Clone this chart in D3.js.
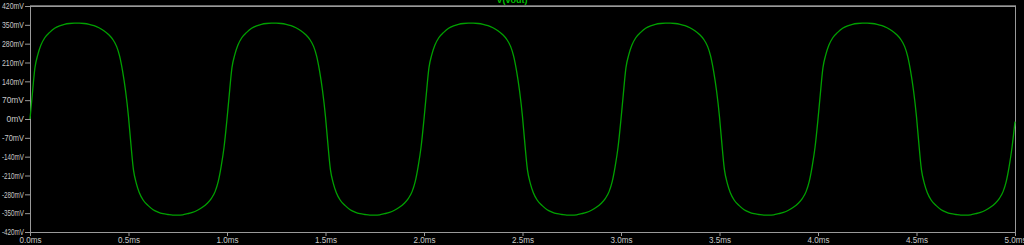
<!DOCTYPE html>
<html><head><meta charset="utf-8">
<script src="https://cdn.jsdelivr.net/npm/d3@7"></script>
<style>html,body{margin:0;padding:0;background:#000;overflow:hidden}</style>
</head><body>
<svg id="c" width="1024" height="245"></svg>
<script>
// one period of V(vout) (time within period in ms, value in mV)
const cycleT = [0, 0.01, 0.025, 0.04, 0.055, 0.075, 0.1, 0.125, 0.15, 0.175, 0.2, 0.225, 0.25, 0.275, 0.3, 0.325, 0.35, 0.375, 0.4, 0.42, 0.44, 0.455, 0.47, 0.485,
                0.5, 0.51, 0.525, 0.54, 0.555, 0.575, 0.6, 0.625, 0.65, 0.675, 0.7, 0.725, 0.75, 0.775, 0.8, 0.825, 0.85, 0.875, 0.9, 0.92, 0.94, 0.955, 0.97, 0.985];
const cycleV = [0, 78, 190, 240, 274, 302, 322, 337, 346, 352, 355, 356, 356, 355, 352, 347, 339, 328, 313, 296, 269, 234, 178, 105,
                8, -75, -188, -240, -274, -302, -322, -337, -346, -352, -355, -357, -357, -356, -352, -347, -339, -328, -313, -296, -269, -234, -178, -105];
const periods = [0, 1, 2, 3, 4];
const endT = 5.0, endV = -10;
const yTicks = [420, 350, 280, 210, 140, 70, 0, -70, -140, -210, -280, -350, -420];
const xTicks = [0, 0.5, 1.0, 1.5, 2.0, 2.5, 3.0, 3.5, 4.0, 4.5, 5.0];
const title = "V(vout)";

const data = [];
periods.forEach(p => cycleT.forEach((t, i) => data.push({t: p + t, v: cycleV[i]})));
data.push({t: endT, v: endV});

const L = 30, R = 1015, T = 6, B = 232;
const x = d3.scaleLinear().domain([0, 5]).range([L, R]);
const y = d3.scaleLinear().domain([-420, 420]).range([B, T]);
const svg = d3.select("#c");
svg.append("rect").attr("width", 1024).attr("height", 245).attr("fill", "#000");

const axisCol = "#9a9a9a", textCol = "#c8c8c8";
const font = "Liberation Sans, Arial, sans-serif";

// y axis
const ya = svg.append("g").attr("transform", `translate(${L},0)`)
  .call(d3.axisLeft(y).tickValues(yTicks).tickSize(5).tickPadding(1).tickFormat(d => d + "mV"));
// x axis
const xa = svg.append("g").attr("transform", `translate(0,${B})`)
  .call(d3.axisBottom(x).tickValues(xTicks).tickSize(4).tickPadding(1).tickFormat(d => d3.format(".1f")(d) + "ms"));
[ya, xa].forEach(g => {
  g.select(".domain").remove();
  g.selectAll("line").attr("stroke", axisCol);
  g.selectAll("text").attr("fill", textCol).attr("font-family", font).attr("font-size", "8.5px");
});
// keep y labels inside the narrow left margin
ya.selectAll("text").each(function() {
  const w = this.getComputedTextLength();
  if (w > 22) d3.select(this).attr("textLength", 22).attr("lengthAdjust", "spacingAndGlyphs");
});
xa.selectAll("text").each(function() {
  const w = this.getComputedTextLength();
  if (w > 22) d3.select(this).attr("textLength", 22).attr("lengthAdjust", "spacingAndGlyphs");
});

// frame
svg.append("rect").attr("x", L + 0.5).attr("y", T + 0.5).attr("width", R - L).attr("height", B - T)
  .attr("fill", "none").attr("stroke", axisCol).attr("stroke-width", 1);
svg.append("line").attr("x1", L).attr("x2", R + 1).attr("y1", T - 0.5).attr("y2", T - 0.5)
  .attr("stroke", "#6a6a6a").attr("stroke-width", 1);

// trace
svg.append("path").datum(data)
  .attr("d", d3.line().x(d => x(d.t)).y(d => y(d.v)).curve(d3.curveMonotoneX))
  .attr("fill", "none").attr("stroke", "#00a000").attr("stroke-width", 1.3);

// title
svg.append("text").attr("x", 512).attr("y", 3).attr("text-anchor", "middle")
  .attr("fill", "#00c000").attr("font-family", font).attr("font-size", "9px").attr("font-weight", "bold").text(title);
</script>
</body></html>
